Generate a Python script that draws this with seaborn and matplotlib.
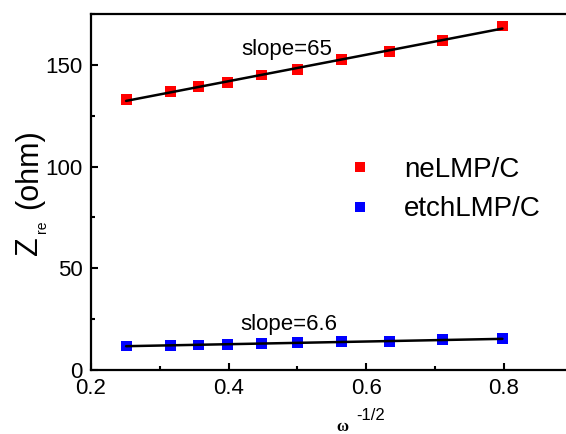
import numpy as np
import pandas as pd
import matplotlib
matplotlib.use("Agg")
import matplotlib.pyplot as plt
import seaborn as sns
from matplotlib.ticker import MultipleLocator, FuncFormatter

# omega^(-1/2) for each frequency point
omega_inv_sqrt = [0.251, 0.316, 0.356, 0.399, 0.448, 0.500, 0.564, 0.634, 0.711, 0.798]
# real impedance (ohm)
z_re_ne = [133.0, 136.8, 139.2, 141.2, 145.0, 147.8, 152.5, 156.7, 161.9, 169.1]
z_re_etch = [11.8, 12.2, 12.3, 12.6, 12.8, 13.5, 13.8, 14.1, 14.8, 15.4]
samples = ["neLMP/C", "etchLMP/C"]
slopes = [65, 6.6]
slope_labels = ["slope=65", "slope=6.6"]
colors = ["#ff0000", "#0000ff"]

sns.set_style("ticks")
plt.rcParams.update({
    "font.family": ["Liberation Sans", "DejaVu Sans"],
    "text.color": "black",
    "axes.labelcolor": "black",
    "axes.edgecolor": "black",
    "xtick.color": "black",
    "ytick.color": "black",
})

df = pd.DataFrame({
    "x": omega_inv_sqrt * 2,
    "z": z_re_ne + z_re_etch,
    "sample": [samples[0]] * len(z_re_ne) + [samples[1]] * len(z_re_etch),
})

W, H = 566, 434
fig = plt.figure(figsize=(W / 100, H / 100), dpi=100)
ax = fig.add_axes([91 / W, 64 / H, 481.6 / W, 356 / H])

sns.scatterplot(data=df, x="x", y="z", hue="sample", palette=colors,
                marker="s", s=62, edgecolor="none", linewidth=0, ax=ax, zorder=2)

# Linear fits with the stated slopes
for ys, k in zip([z_re_ne, z_re_etch], slopes):
    xs = np.array(omega_inv_sqrt)
    b = np.mean(ys) - k * np.mean(xs)
    xe = np.array([xs[0], xs[-1]])
    sns.lineplot(x=xe, y=b + k * xe, color="black", lw=1.8, ax=ax, zorder=3)

ax.text(0.418, 154.7, slope_labels[0], fontsize=16, ha="left", va="baseline")
ax.text(0.417, 19.7, slope_labels[1], fontsize=16, ha="left", va="baseline")

ax.set_xlim(0.2, 0.9)
ax.set_ylim(0, 175)
ax.xaxis.set_major_locator(MultipleLocator(0.2))
ax.xaxis.set_minor_locator(MultipleLocator(0.1))
ax.yaxis.set_major_locator(MultipleLocator(50))
ax.yaxis.set_minor_locator(MultipleLocator(25))
ax.xaxis.set_major_formatter(FuncFormatter(lambda v, p: f"{v:.1f}"))
ax.tick_params(which="major", direction="in", length=5, width=1.5, labelsize=16, pad=6)
ax.tick_params(which="minor", direction="in", length=3, width=1.5)
for s in ax.spines.values():
    s.set_linewidth(1.6)
    s.set_visible(True)
ax.set_xlabel("")
ax.set_ylabel("")

handles, labels = ax.get_legend_handles_labels()
ax.legend(handles, labels, loc="upper left", bbox_to_anchor=(346 / W, 1 - 157 / H),
          bbox_transform=fig.transFigure, frameon=False, fontsize=20,
          handlelength=1.0, handletextpad=1.1, labelspacing=0.48,
          borderpad=0, borderaxespad=0, markerscale=1.0)

# y-axis label built from rotated pieces
def px(x, y):
    return x / W, 1 - y / H

fig.text(*px(37, 255), "Z", fontsize=22, rotation=90, rotation_mode="anchor",
         ha="left", va="baseline")
fig.text(*px(46, 233), "re", fontsize=10, rotation=90, rotation_mode="anchor",
         ha="left", va="baseline")
fig.text(*px(37, 209), "(ohm)", fontsize=22, rotation=90, rotation_mode="anchor",
         ha="left", va="baseline")

# x-axis label
fig.text(*px(342, 431), "\u03c9", fontsize=12, family=["Liberation Serif", "DejaVu Serif"],
         fontweight="bold", ha="center", va="baseline")
fig.text(*px(356, 420), "-1/2", fontsize=12, ha="left", va="baseline")

fig.savefig("out.png", dpi=100)
